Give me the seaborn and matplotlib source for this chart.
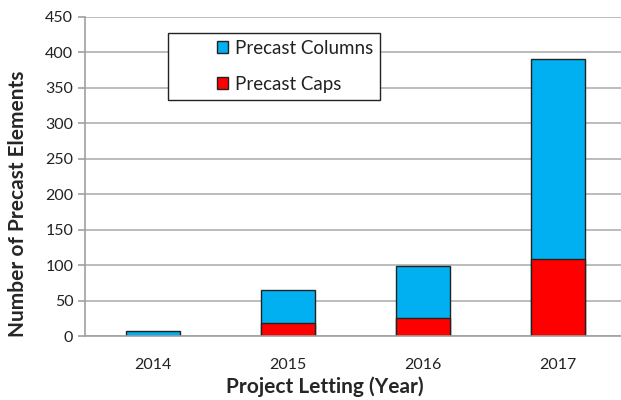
import matplotlib
matplotlib.use('Agg')
import matplotlib.pyplot as plt
from matplotlib.patches import Rectangle
import seaborn as sns
import pandas as pd

years = ['2014', '2015', '2016', '2017']
caps = [0, 19, 26, 109]
columns = [7, 46, 73, 282]

blue = '#00B0F0'
red = '#FF0000'

df = pd.DataFrame({'year': years, 'caps': caps, 'columns': columns})
df['total'] = df['caps'] + df['columns']

sns.set_style('white')
plt.rcParams['font.family'] = ['Lato', 'DejaVu Sans']

fig = plt.figure(figsize=(6.21, 4.0), dpi=100)
ax = fig.add_axes([0.137, 0.16, 0.87, 0.7975])

sns.barplot(data=df, x='year', y='total', color=blue, saturation=1, width=0.4,
            edgecolor='#222222', linewidth=1, ax=ax, label='Precast Columns')
sns.barplot(data=df[df['caps'] > 0], x='year', y='caps', color=red, saturation=1,
            width=0.4, edgecolor='#222222', linewidth=1, ax=ax, label='Precast Caps',
            order=years)
handles, labels = ax.get_legend_handles_labels()
if ax.get_legend() is not None:
    ax.get_legend().remove()

ax.set_ylim(0, 450)
ax.set_yticks(range(0, 451, 50))
ax.set_xlim(-0.5, 3.5)
ax.grid(axis='y', color='#b0b0b0', linewidth=1.2)
ax.set_axisbelow(True)
for s in ['top', 'right']:
    ax.spines[s].set_visible(False)
for s in ['left', 'bottom']:
    ax.spines[s].set_color('#a0a0a0')
    ax.spines[s].set_linewidth(1.2)

# tick marks between categories on x, outward marks on y
ax.set_xticks([0, 1, 2, 3])
ax.set_xticks([0.5, 1.5, 2.5], minor=True)
ax.tick_params(axis='x', which='major', length=0, labelsize=11.5, pad=16,
               labelcolor='#222222')
ax.tick_params(axis='x', which='minor', length=5, color='#a0a0a0', width=1.2)
ax.tick_params(axis='y', length=5, color='#a0a0a0', width=1.2, labelsize=11.5,
               direction='out', left=True, labelcolor='#222222')

ax.set_xlabel('Project Letting (Year)', fontsize=15, fontweight='bold')
ax.set_ylabel('Number of Precast Elements', fontsize=15, fontweight='bold')
ax.xaxis.set_label_coords(0.444, -0.128)
ax.yaxis.set_label_coords(-0.105, 0.414)

# legend box drawn separately so it has the wide left margin of the original
fig.patches.append(Rectangle((168 / 621, 0.75), 212 / 621, 67 / 400,
                             transform=fig.transFigure, facecolor='white',
                             edgecolor='#222222', linewidth=1.0, zorder=5))
leg = fig.legend(handles, labels, loc='upper left',
                 bbox_to_anchor=(217 / 621, 1 - 40 / 400), fontsize=13.5,
                 frameon=False, handlelength=0.6, handleheight=0.6,
                 borderpad=0, labelspacing=1.0, handletextpad=0.35,
                 borderaxespad=0)
leg.set_zorder(6)
for t in leg.get_texts():
    t.set_color('#222222')

fig.savefig('out.png', dpi=100)
